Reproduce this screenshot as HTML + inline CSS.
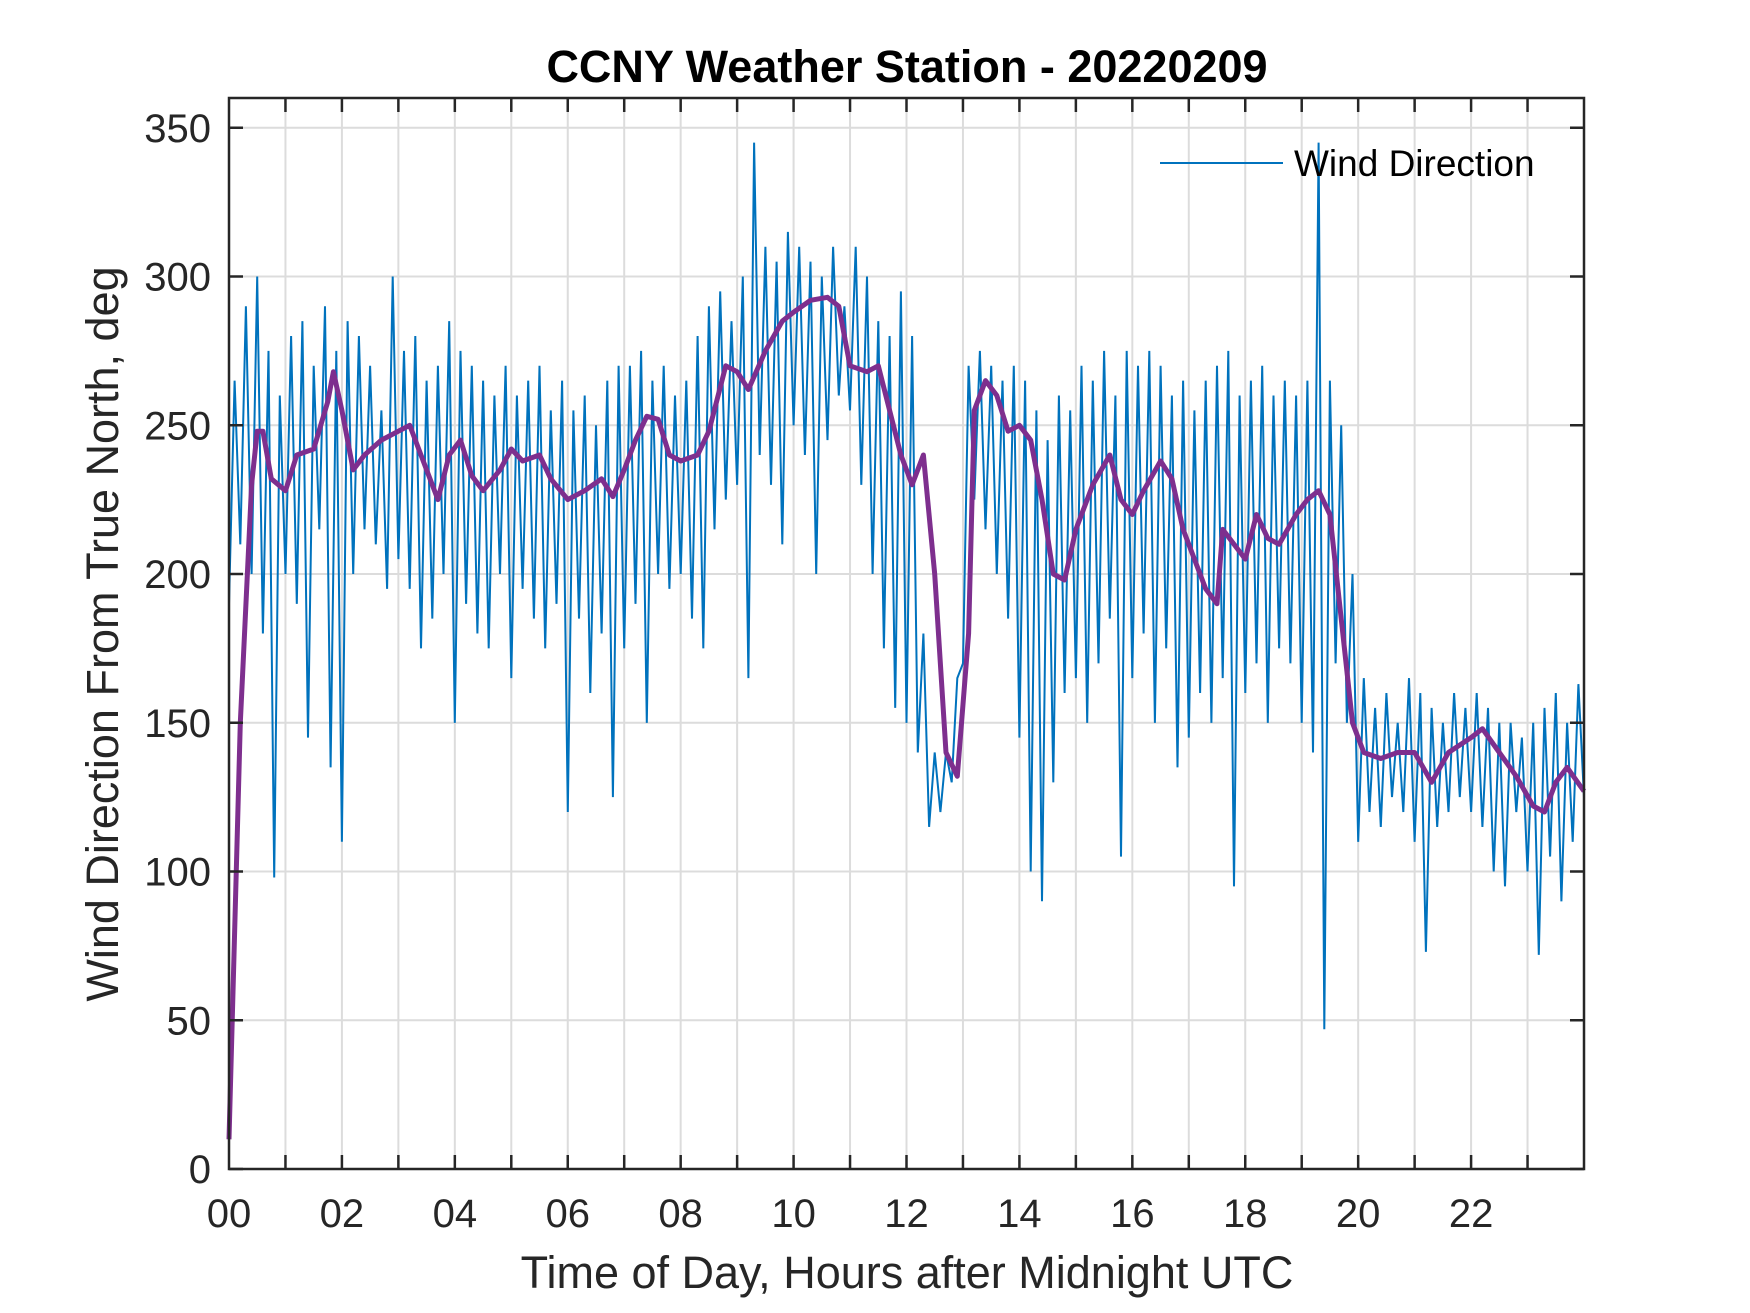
<!DOCTYPE html>
<html><head><meta charset="utf-8"><style>
html,body{margin:0;padding:0;background:#fff;}
svg{display:block;font-family:"Liberation Sans",Arial,sans-serif;}
</style></head><body>
<svg id="chart" width="1750" height="1313" viewBox="0 0 1750 1313" xmlns="http://www.w3.org/2000/svg">
<rect width="1750" height="1313" fill="#fff"/>
<g id="grid"></g>
<g id="series"></g>
<g id="axes"></g>
<text x="907" y="82" text-anchor="middle" font-size="45" font-weight="bold" fill="#000">CCNY Weather Station - 20220209</text>
<text x="907" y="1288" text-anchor="middle" font-size="45" fill="#262626">Time of Day, Hours after Midnight UTC</text>
<text transform="translate(118,634) rotate(-90)" text-anchor="middle" font-size="45" fill="#262626">Wind Direction From True North, deg</text>
<g>
<line x1="1160" y1="163" x2="1283" y2="163" stroke="#0072BD" stroke-width="2"/>
<text x="1294" y="176" font-size="37" fill="#000">Wind Direction</text>
</g>
</svg>
<script>
const xTickLabels = ["00","02","04","06","08","10","12","14","16","18","20","22"];
const yTicks = [0,50,100,150,200,250,300,350];
const rawStep = 0.1;
const rawValues = [
190,265,210,290,200,300,180,275,98,260,
200,280,190,285,145,270,215,290,135,275,
110,285,200,280,215,270,210,255,195,300,
205,275,195,280,175,265,185,270,200,285,
150,275,190,270,180,265,175,260,200,270,
165,260,195,265,185,270,175,255,190,265,
120,255,185,260,160,250,180,265,125,270,
175,270,190,275,150,265,200,270,195,260,
200,265,185,280,175,290,215,295,225,285,
230,300,165,345,240,310,230,305,210,315,
250,310,240,305,200,300,245,310,260,290,
255,310,230,300,200,285,175,280,155,295,
150,280,140,180,115,140,120,140,130,165,
170,270,225,275,215,270,200,265,185,270,
145,265,100,255,90,245,130,260,160,255,
165,270,150,265,170,275,185,260,105,275,
165,270,180,275,150,270,175,260,135,265,
145,255,160,265,150,270,165,275,95,260,
160,265,170,270,150,260,175,265,170,260,
150,265,140,345,47,265,170,250,150,200,
110,165,120,155,115,160,125,150,120,165,
110,160,73,155,115,150,120,160,125,155,
120,160,115,155,100,150,95,150,120,145,
100,150,72,155,105,160,90,150,110,163,
125];
const meanHours = [0,0.2,0.4,0.5,0.6,0.75,1.0,1.2,1.5,1.75,1.85,2.0,2.2,2.4,2.7,3.0,3.2,3.5,3.7,3.9,4.1,4.3,4.5,4.8,5.0,5.2,5.5,5.7,6.0,6.3,6.6,6.8,7.0,7.2,7.4,7.6,7.8,8.0,8.3,8.5,8.8,9.0,9.2,9.5,9.8,10.0,10.3,10.6,10.8,11.0,11.3,11.5,11.7,11.9,12.1,12.3,12.5,12.7,12.9,13.1,13.2,13.4,13.6,13.8,14.0,14.2,14.4,14.6,14.8,15.0,15.3,15.6,15.8,16.0,16.2,16.5,16.7,16.9,17.1,17.3,17.5,17.6,17.8,18.0,18.2,18.4,18.6,18.9,19.1,19.3,19.5,19.7,19.9,20.1,20.4,20.7,21.0,21.3,21.6,22.0,22.2,22.5,22.8,23.1,23.3,23.5,23.7,24.0];
const meanValues = [10,150,230,248,248,232,228,240,242,258,268,255,235,240,245,248,250,235,225,240,245,233,228,235,242,238,240,232,225,228,232,226,235,245,253,252,240,238,240,248,270,268,262,275,285,288,292,293,290,270,268,270,255,240,230,240,200,140,132,180,255,265,260,248,250,245,225,200,198,215,230,240,225,220,228,238,232,215,205,195,190,215,210,205,220,212,210,220,225,228,220,185,150,140,138,140,140,130,140,145,148,140,132,122,120,130,135,127];

const L=229,R=1584,T=98,B=1169,XMAX=24,YMAX=360;
const xs=h=>L+(R-L)*h/XMAX;
const ys=v=>B-(B-T)*v/YMAX;
const NS="http://www.w3.org/2000/svg";
function mk(tag,attrs,parent){const e=document.createElementNS(NS,tag);for(const k in attrs)e.setAttribute(k,attrs[k]);parent.appendChild(e);return e;}
const grid=document.getElementById('grid'),axes=document.getElementById('axes'),series=document.getElementById('series');
for(let h=1;h<XMAX;h++){
  const g=mk('line',{x1:xs(h),x2:xs(h),y1:T,y2:B,stroke:'#dcdcdc','stroke-width':2},grid);
  
  
  const t1=mk('line',{x1:xs(h),x2:xs(h),y1:B,y2:B-14,stroke:'#262626','stroke-width':2.5},axes);
  
  
  const t2=mk('line',{x1:xs(h),x2:xs(h),y1:T,y2:T+14,stroke:'#262626','stroke-width':2.5},axes);
  
  
}
yTicks.forEach(v=>{
  if(v>0){
    const g=mk('line',{x1:L,x2:R,y1:ys(v),y2:ys(v),stroke:'#dcdcdc','stroke-width':2},grid);
    
    
  }
  const t1=mk('line',{x1:L,x2:L+14,y1:ys(v),y2:ys(v),stroke:'#262626','stroke-width':2.5},axes);
  
  
  const t2=mk('line',{x1:R,x2:R-14,y1:ys(v),y2:ys(v),stroke:'#262626','stroke-width':2.5},axes);
  
  
  const lb=mk('text',{x:L-18,y:ys(v)+14,'text-anchor':'end','font-size':40,fill:'#262626'},axes);
  lb.textContent=v;
  
  
});
xTickLabels.forEach((s,i)=>{
  const lb=mk('text',{x:xs(i*2),y:B+58,'text-anchor':'middle','font-size':40,fill:'#262626'},axes);
  lb.textContent=s;
  
  
});
const frame=mk('rect',{x:L,y:T,width:R-L,height:B-T,fill:'none',stroke:'#262626','stroke-width':2.5},axes);


const rawPts=rawValues.map((v,i)=>xs(i*rawStep).toFixed(1)+','+ys(v).toFixed(1)).join(' ');
const raw=mk('polyline',{points:rawPts,fill:'none',stroke:'#0072BD','stroke-width':2,'stroke-linejoin':'miter'},series);


const meanPts=meanValues.map((v,i)=>xs(meanHours[i]).toFixed(1)+','+ys(v).toFixed(1)).join(' ');
const mean=mk('polyline',{points:meanPts,fill:'none',stroke:'#7E2F8E','stroke-width':5,'stroke-linejoin':'round'},series);


</script>
</body></html>
